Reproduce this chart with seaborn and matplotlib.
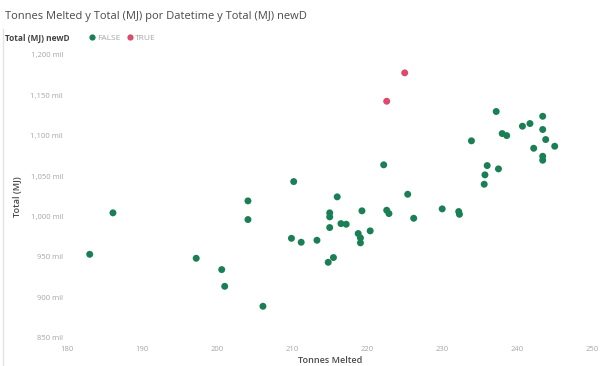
import matplotlib
matplotlib.use("Agg")
import matplotlib.pyplot as plt
from matplotlib.lines import Line2D
from matplotlib.ticker import FuncFormatter
import seaborn as sns
import pandas as pd

# Tonnes melted per batch, energy used (millions of MJ) and the newD flag
tonnes = [183.0, 186.1, 197.2, 200.6, 201.0, 204.1, 204.1, 206.1, 210.2, 209.9,
          211.2, 213.3, 215.0, 215.0, 215.0, 216.0, 216.5, 217.2, 218.8, 219.1,
          219.1, 220.4, 215.5, 214.8, 219.3, 222.2, 222.6, 222.9, 225.4, 226.2,
          230.0, 232.2, 232.3, 233.9, 235.6, 235.7, 236.0, 237.5, 237.2, 238.0,
          238.6, 240.7, 241.7, 242.2, 243.4, 243.4, 243.8, 243.4, 243.4, 245.0,
          222.6, 225.0]
total_mj = [953.3, 1004.6, 948.4, 934.4, 913.7, 1019.4, 996.3, 889.0, 1043.3, 973.1,
            968.2, 970.7, 1004.6, 999.6, 986.4, 1024.4, 991.3, 990.5, 979.0, 973.6,
            967.5, 982.3, 949.3, 943.4, 1007.1, 1064.0, 1007.8, 1003.7, 1027.6, 997.9,
            1009.5, 1006.2, 1002.8, 1093.7, 1040.0, 1051.6, 1063.1, 1059.0, 1130.0, 1102.7,
            1100.2, 1111.8, 1115.1, 1084.5, 1124.1, 1107.7, 1095.3, 1074.6, 1069.7, 1087.0,
            1142.7, 1177.8]
new_d = ["FALSE"] * 50 + ["TRUE"] * 2

categories = ["FALSE", "TRUE"]
palette = {"FALSE": "#1a7f55", "TRUE": "#dc4a6c"}
x_ticks = [180, 190, 200, 210, 220, 230, 240, 250]
y_ticks = [850, 900, 950, 1000, 1050, 1100, 1150, 1200]

df = pd.DataFrame({"Tonnes Melted": tonnes, "Total (MJ)": total_mj, "newD": new_d})

sns.set_theme(style="white")
plt.rcParams["font.family"] = ["Open Sans", "DejaVu Sans"]

fig = plt.figure(figsize=(6.0, 3.66), dpi=100)
ax = fig.add_axes([0.112, 0.066, 0.875, 0.795])

sns.scatterplot(data=df, x="Tonnes Melted", y="Total (MJ)", hue="newD",
                hue_order=categories, palette=palette, s=25, linewidth=0,
                legend=False, ax=ax)

ax.set_xlim(180, 250)
ax.set_ylim(845, 1205)
ax.set_xticks(x_ticks)
ax.set_yticks(y_ticks)
ax.yaxis.set_major_formatter(FuncFormatter(lambda v, p: f"{int(v):,} mil"))
ax.tick_params(axis="both", length=0, labelsize=5.5, labelcolor="#a6a6a6", pad=3)
for s in ax.spines.values():
    s.set_visible(False)
ax.grid(False)

ax.set_xlabel("Tonnes Melted", fontsize=6.5, color="#4a4a4a", labelpad=2,
              fontweight="semibold")
ax.set_ylabel("Total (MJ)", fontsize=6.5, color="#4a4a4a", labelpad=6,
              fontweight="semibold")

fig.text(0.008, 0.955, "Tonnes Melted y Total (MJ) por Datetime y Total (MJ) newD",
         fontsize=8, color="#4a4a4a", ha="left", va="center")
fig.text(0.008, 0.895, "Total (MJ) newD", fontsize=6, color="#444444",
         fontweight="bold", ha="left", va="center")

handles = [Line2D([0], [0], marker="o", linestyle="", markersize=4.5,
                  markerfacecolor=palette[c], markeredgewidth=0, label=c)
           for c in categories]
leg = fig.legend(handles=handles, loc="center left", bbox_to_anchor=(0.14, 0.895),
                 ncol=2, frameon=False, fontsize=6, handletextpad=0.1,
                 columnspacing=0.6, borderpad=0, handlelength=1.0)
for t in leg.get_texts():
    t.set_color("#a6a6a6")

# thin border on the left of the visual
fig.add_artist(Line2D([0.005, 0.005], [0.0, 0.92], transform=fig.transFigure,
                      color="#e3e3e3", linewidth=1))

fig.savefig("out.png", dpi=100, facecolor="white")
